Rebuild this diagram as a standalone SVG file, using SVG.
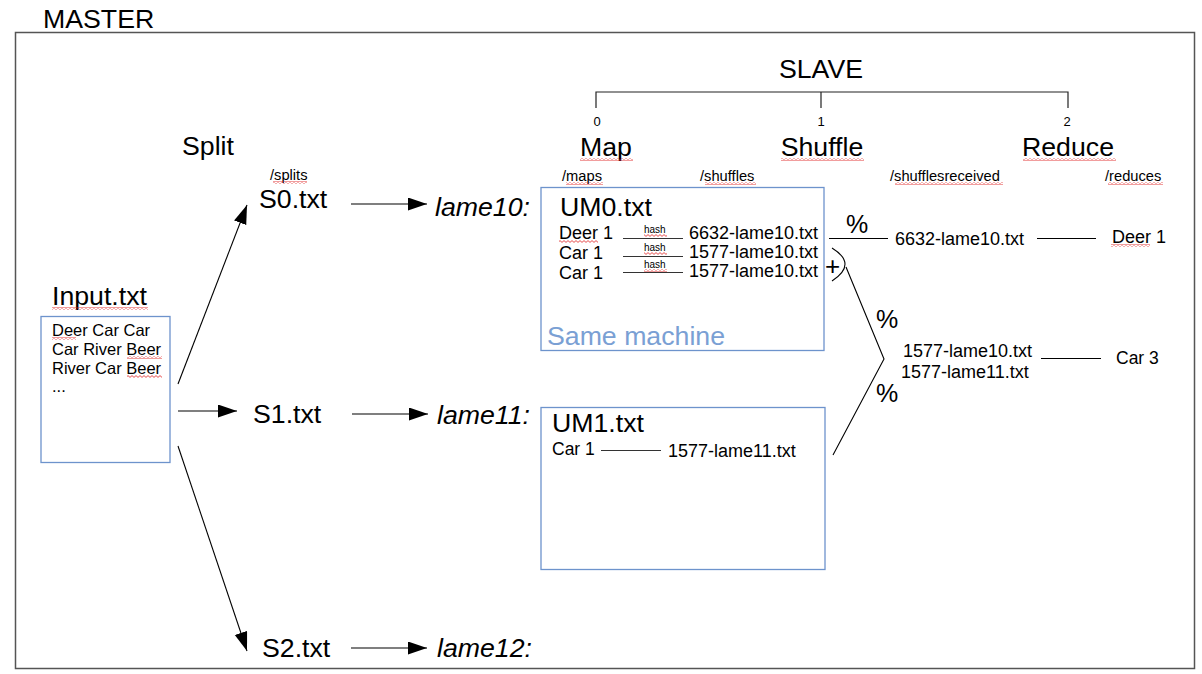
<svg xmlns="http://www.w3.org/2000/svg" width="1202" height="674" viewBox="0 0 1202 674">
<style>
text{font-family:"Liberation Sans",Arial,sans-serif;fill:#000}
.big{font-size:26.7px}
.it{font-style:italic}
.med{font-size:18px}
.inp{font-size:16.5px}
.sm{font-size:14.7px}
.dig{font-size:13px}
.tiny{font-size:10px}
.box{fill:none;stroke:#6d93cc;stroke-width:1.3}
.ln{stroke:#000;stroke-width:1.1;fill:none}
.hl{stroke:#333;stroke-width:1.1;fill:none}
.arr{stroke:#000;stroke-width:1.1;fill:none;marker-end:url(#ah)}
.spell{fill:url(#wave)}
</style>
<defs>
<marker id="ah" markerUnits="userSpaceOnUse" markerWidth="20" markerHeight="14" refX="19" refY="6.5" orient="auto">
<path d="M0,0 L19,6.5 L0,13 Z" fill="#000"/>
</marker>
<pattern id="wave" patternUnits="userSpaceOnUse" width="4" height="3">
<path d="M0,0.6 L2,2.4 L4,0.6" fill="none" stroke="#e02020" stroke-width="0.8"/>
</pattern>
</defs>
<rect width="1202" height="674" fill="#fff"/>

<g id="master">
<text x="43" y="28" class="big">MASTER</text>
<rect x="15.5" y="32.5" width="1179" height="636" fill="none" stroke="#555" stroke-width="1.5"/>
</g>

<g id="slave">
<text x="821" y="78" class="big" text-anchor="middle">SLAVE</text>
<path d="M596,108 V92 H1068 V108 M821,92 V108" fill="none" stroke="#222" stroke-width="1.2"/>
<text x="597" y="126" class="dig" text-anchor="middle">0</text>
<text x="821" y="126" class="dig" text-anchor="middle">1</text>
<text x="1067" y="126" class="dig" text-anchor="middle">2</text>
</g>

<g id="stage-labels">
<text x="182" y="155" class="big">Split</text>
<text x="606" y="156" class="big" text-anchor="middle">Map</text>
<text x="822" y="156" class="big" text-anchor="middle">Shuffle</text>
<text x="1068" y="156" class="big" text-anchor="middle">Reduce</text>
<text x="270" y="180" class="sm">/splits</text>
<text x="562" y="181" class="sm">/maps</text>
<text x="700" y="181" class="sm">/shuffles</text>
<text x="890" y="181" class="sm">/shufflesreceived</text>
<text x="1105" y="181" class="sm">/reduces</text>
</g>

<g id="input">
<text x="52" y="305" class="big">Input.txt</text>
<rect x="41" y="316.5" width="129" height="146" class="box"/>
<text x="52" y="336" class="inp">Deer Car Car</text>
<text x="52" y="355" class="inp">Car River Beer</text>
<text x="52" y="374" class="inp">River Car Beer</text>
<text x="52" y="392" class="inp">...</text>
</g>

<g id="s0"><text x="259" y="208" class="big">S0.txt</text></g>
<g id="s1"><text x="253" y="423" class="big">S1.txt</text></g>
<g id="s2"><text x="262" y="657" class="big">S2.txt</text></g>

<g id="lame10"><text x="435" y="216" class="big it">lame10:</text></g>
<g id="lame11"><text x="437" y="424" class="big it">lame11:</text></g>
<g id="lame12"><text x="437" y="657" class="big it">lame12:</text></g>

<g id="um0">
<rect x="541" y="187.5" width="283" height="163" class="box"/>
<text x="560" y="216" class="big">UM0.txt</text>
<text x="559" y="239" class="med">Deer 1</text>
<text x="559" y="259" class="med">Car 1</text>
<text x="559" y="279" class="med">Car 1</text>
<text x="644" y="233" class="tiny">hash</text>
<text x="644" y="251" class="tiny">hash</text>
<text x="644" y="268" class="tiny">hash</text>
<path d="M623,238.5 H683 M623,256.5 H683 M623,272.5 H683" class="hl"/>
<text x="689" y="239" class="med">6632-lame10.txt</text>
<text x="689" y="258" class="med">1577-lame10.txt</text>
<text x="689" y="277" class="med">1577-lame10.txt</text>
<text x="547" y="345" class="big" style="fill:#7aa0d4">Same machine</text>
</g>

<g id="um1">
<rect x="541" y="407.5" width="284" height="162" class="box"/>
<text x="552" y="432" class="big">UM1.txt</text>
<text x="552" y="455" class="med" style="font-size:17.5px">Car 1</text>
<path d="M601,450.5 H661" class="hl"/>
<text x="668" y="457" class="med">1577-lame11.txt</text>
</g>

<g id="shuffle-out">
<text x="895" y="245" class="med">6632-lame10.txt</text>
<text x="903" y="357" class="med">1577-lame10.txt</text>
<text x="901" y="378" class="med">1577-lame11.txt</text>
</g>

<g id="reduce-out">
<text x="1112" y="243" class="med">Deer 1</text>
<text x="1116" y="364" class="med" style="font-size:17.5px">Car 3</text>
</g>

<g id="connectors">
<path d="M178,384 L247,205" class="arr"/>
<path d="M178,411 L237,411" class="arr"/>
<path d="M178,446 L247,651" class="arr"/>
<path d="M351,204 L427,204" class="arr"/>
<path d="M352,414 L428,414" class="arr"/>
<path d="M351,648 L427,648" class="arr"/>
<path d="M829,238.5 H888" class="ln"/>
<path d="M1037,238.5 H1096" class="ln"/>
<path d="M832,248 Q858,264 832,281" class="ln"/>
<path d="M846,267 L884,359 L833,455" class="ln"/>
<path d="M1041,358.5 H1101" class="ln"/>
<text x="846" y="233" style="font-size:25px">%</text>
<text x="825" y="275" style="font-size:26px">+</text>
<text x="876" y="328" style="font-size:25px">%</text>
<text x="876" y="402" style="font-size:25px">%</text>
</g>

<g id="spellcheck">
<rect class="spell" x="52" y="307" width="96" height="3"/>
<rect class="spell" x="52" y="337" width="24" height="3"/>
<rect class="spell" x="127" y="356" width="35" height="3"/>
<rect class="spell" x="127" y="375" width="35" height="3"/>
<rect class="spell" x="273" y="181" width="34" height="3"/>
<rect class="spell" x="566" y="182" width="37" height="3"/>
<rect class="spell" x="705" y="182" width="51" height="3"/>
<rect class="spell" x="580" y="158" width="53" height="3"/>
<rect class="spell" x="781" y="158" width="83" height="3"/>
<rect class="spell" x="1023" y="158" width="93" height="3"/>
<rect class="spell" x="895" y="182" width="108" height="3"/>
<rect class="spell" x="1108" y="182" width="55" height="3"/>
<rect class="spell" x="559" y="240" width="39" height="3"/>
<rect class="spell" x="644" y="234" width="23" height="3"/>
<rect class="spell" x="644" y="252" width="23" height="3"/>
<rect class="spell" x="644" y="269" width="23" height="3"/>
<rect class="spell" x="1111" y="244" width="39" height="3"/>
</g>
</svg>
